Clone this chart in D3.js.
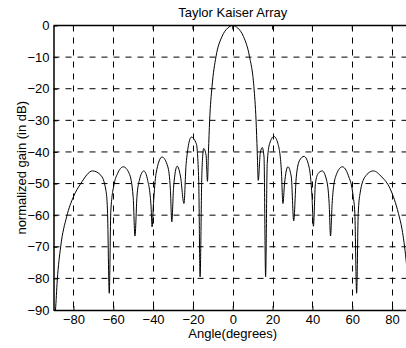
<!DOCTYPE html>
<html>
<head>
<meta charset="utf-8">
<script src="https://cdn.jsdelivr.net/npm/d3@7"></script>
<style>
  body { margin: 0; background: #fff; }
  svg { display: block; font-family: "Liberation Sans", Arial, sans-serif; }
</style>
</head>
<body>
<svg id="chart" width="406" height="348"></svg>
<script>
// pattern: angle (deg) and normalized gain (dB)
const angles = [
  -91, -89, -88.1, -86.4, -83.4, -80, -76.3, -70.4, -66.2, -63.7, -62.9, -62, -61.2, -59.5, -57.8,
  -55, -52, -50, -49.1, -48.1, -46.9, -44.7, -42.7, -41, -40.5, -39.8, -38.5,
  -35.5, -32.6, -31.3, -30.6, -29.7, -27.9, -26.2, -24.5, -23.4, -20.8, -18.3,
  -17.1, -16.4, -15.5, -14.6, -13.4, -12.7, -12.2, -11.6, -10.4, -8.4, -5.4, -2.5, 0,
  2.5, 5.4, 8.4, 10.6, 11.7, 12.3, 12.8, 13.8, 14.8, 15.7, 16.5, 17.3, 18.5, 20.7, 22.7,
  24.4, 25.2, 26, 27.7, 29.4, 30.6, 31.9, 33.6, 35.8, 38.3, 39.8, 40.5,
  41.5, 42.9, 44.9, 47.1, 48.4, 49.1, 49.9, 51.6, 55, 58, 60.5, 61.3, 62.2,
  63, 63.9, 66.4, 70.6, 74.8, 79, 83.2, 85, 87, 88.5, 91
];
const gainDb = [
  -98, -90, -80.5, -70, -60.5, -54.2, -50, -46, -47.4, -52.1, -58.4, -84.7, -58.4, -50, -46.8,
  -44.7, -46.8, -54.2, -66.6, -54.2, -49, -46, -49, -57.4, -63.7, -56.3, -46.8,
  -41.6, -44.7, -52.1, -62.1, -51.1, -44.5, -47.9, -56.3, -43.7, -35.3, -37.4,
  -48.9, -79.5, -46.8, -38.9, -41, -49.3, -40, -30, -19.3, -9.8, -3.5, -0.8, 0,
  -0.8, -3.5, -9.8, -19.3, -30, -40, -49, -40.5, -38.6, -41.6, -79.5, -43.7, -37.4, -35.1, -37.4,
  -45.8, -56.3, -50, -44.7, -47.9, -61.8, -47.9, -42.6, -41.4, -44.7, -54.2, -63.5,
  -50, -46.8, -46, -48.9, -56.3, -66.6, -56.3, -47.9, -44.7, -47.4, -54.2, -59.5, -84.7,
  -59.5, -53.2, -47.9, -46, -47.9, -51.6, -59.5, -64.5, -74, -85, -100
];
const xTicks = [-80, -60, -40, -20, 0, 20, 40, 60, 80];
const yTicks = [0, -10, -20, -30, -40, -50, -60, -70, -80, -90];

const svg = d3.select("#chart");
const plotLeft = 53.5, plotRight = 412, plotTop = 25.5, plotBottom = 310;
const fontSize = "13px";

const x = d3.scaleLinear().domain([-90, 90]).range([plotLeft, plotRight]);
const y = d3.scaleLinear().domain([-90, 0]).range([plotBottom, plotTop]);

svg.append("defs").append("clipPath").attr("id", "plotArea")
  .append("rect")
  .attr("x", plotLeft).attr("y", plotTop)
  .attr("width", plotRight - plotLeft).attr("height", plotBottom - plotTop);

// dashed grid
const grid = svg.append("g").attr("stroke", "#000").attr("stroke-width", 1)
  .attr("stroke-dasharray", "6,6");
grid.selectAll(".vg").data(xTicks).enter().append("line")
  .attr("x1", d => Math.round(x(d)) + 0.5).attr("x2", d => Math.round(x(d)) + 0.5)
  .attr("y1", plotTop).attr("y2", plotBottom);
grid.selectAll(".hg").data(yTicks.slice(1, -1)).enter().append("line")
  .attr("x1", plotLeft).attr("x2", plotRight)
  .attr("y1", d => y(d)).attr("y2", d => y(d));

// pattern curve
const line = d3.line()
  .x((d, i) => x(angles[i]))
  .y(d => y(d))
  .curve(d3.curveMonotoneX);

svg.append("path")
  .datum(gainDb)
  .attr("clip-path", "url(#plotArea)")
  .attr("fill", "none")
  .attr("stroke", "#000")
  .attr("stroke-width", 1)
  .attr("d", line);

// axes (ticks point inward, MATLAB style)
const xAxis = svg.append("g")
  .attr("transform", `translate(0,${plotBottom})`)
  .call(d3.axisBottom(x).tickValues(xTicks).tickSizeInner(-4).tickSizeOuter(0).tickPadding(5));
const yAxis = svg.append("g")
  .attr("transform", `translate(${plotLeft},0)`)
  .call(d3.axisLeft(y).tickValues(yTicks).tickSizeInner(-4).tickSizeOuter(0).tickPadding(4));

[xAxis, yAxis].forEach(g => {
  g.select(".domain").attr("stroke", "#000").attr("stroke-width", 1.5);
  g.selectAll(".tick line").attr("stroke", "#000");
  g.selectAll(".tick text")
    .attr("fill", "#000")
    .style("font-size", fontSize)
    .style("font-family", "'Liberation Sans', Arial, sans-serif");
});

// top frame line
svg.append("line")
  .attr("x1", plotLeft).attr("x2", plotRight)
  .attr("y1", plotTop).attr("y2", plotTop)
  .attr("stroke", "#000").attr("stroke-width", 1.5);
svg.append("g").selectAll("line").data(xTicks).enter().append("line")
  .attr("x1", d => x(d)).attr("x2", d => x(d))
  .attr("y1", plotTop).attr("y2", plotTop + 4)
  .attr("stroke", "#000");

// labels
svg.append("text")
  .attr("x", x(0)).attr("y", 17)
  .attr("text-anchor", "middle")
  .style("font-size", fontSize)
  .text("Taylor Kaiser Array");

svg.append("text")
  .attr("x", x(0)).attr("y", 338)
  .attr("text-anchor", "middle")
  .style("font-size", fontSize)
  .text("Angle(degrees)");

svg.append("text")
  .attr("transform", `translate(26,${(plotTop + plotBottom) / 2}) rotate(-90)`)
  .attr("text-anchor", "middle")
  .style("font-size", fontSize)
  .text("normalized gain (in dB)");
</script>
</body>
</html>
